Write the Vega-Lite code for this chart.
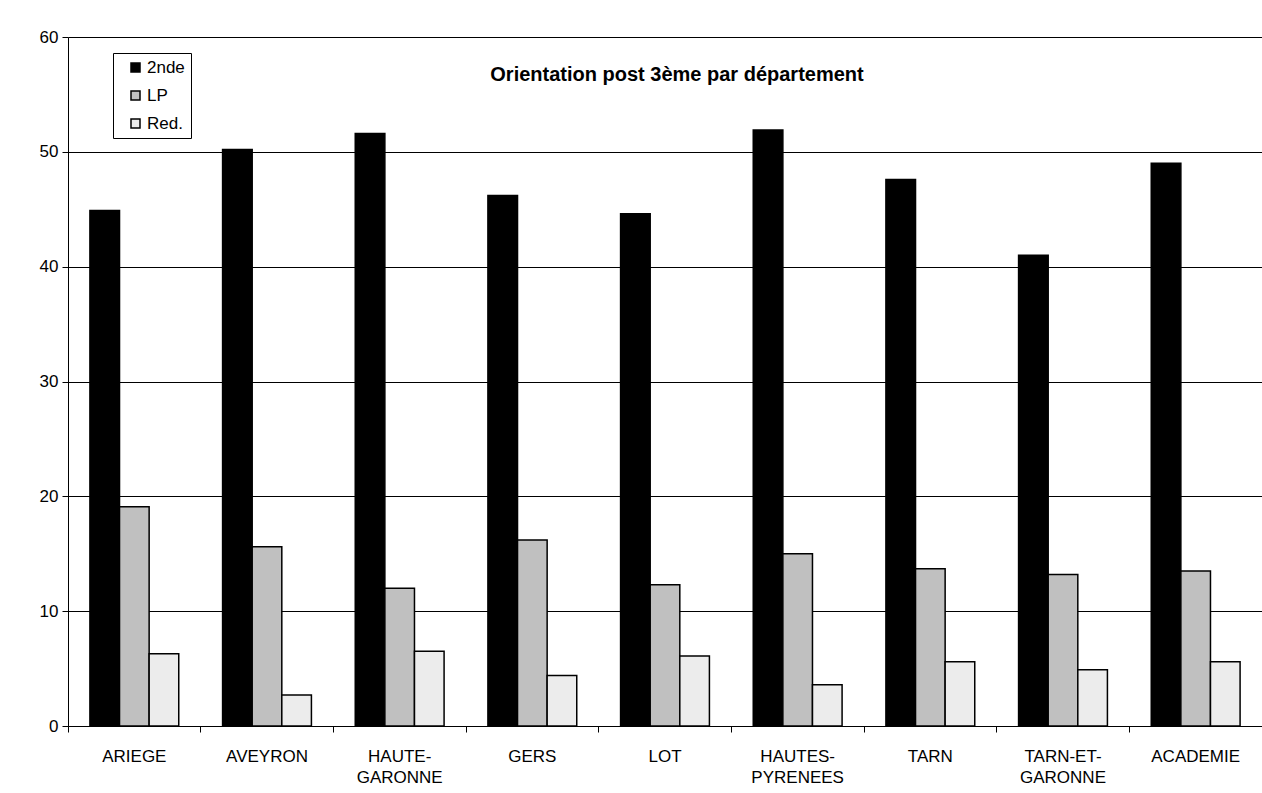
{
  "$schema": "https://vega.github.io/schema/vega-lite/v6.json",
  "width": 1194,
  "height": 689,
  "autosize": {"type": "none"},
  "padding": {"left": 68, "top": 37, "right": 0, "bottom": 67},
  "background": "white",
  "title": {
    "text": "Orientation post 3ème par département",
    "fontSize": 20,
    "fontWeight": "bold",
    "font": "Liberation Sans",
    "color": "black",
    "anchor": "middle",
    "orient": "top",
    "offset": -57,
    "dx": 12
  },
  "data": {
    "values": [
      {"dept": "ARIEGE", "serie": "2nde", "value": 44.9},
      {"dept": "ARIEGE", "serie": "LP", "value": 19.1},
      {"dept": "ARIEGE", "serie": "Red.", "value": 6.3},
      {"dept": "AVEYRON", "serie": "2nde", "value": 50.2},
      {"dept": "AVEYRON", "serie": "LP", "value": 15.6},
      {"dept": "AVEYRON", "serie": "Red.", "value": 2.7},
      {"dept": "HAUTE-GARONNE", "serie": "2nde", "value": 51.6},
      {"dept": "HAUTE-GARONNE", "serie": "LP", "value": 12.0},
      {"dept": "HAUTE-GARONNE", "serie": "Red.", "value": 6.5},
      {"dept": "GERS", "serie": "2nde", "value": 46.2},
      {"dept": "GERS", "serie": "LP", "value": 16.2},
      {"dept": "GERS", "serie": "Red.", "value": 4.4},
      {"dept": "LOT", "serie": "2nde", "value": 44.6},
      {"dept": "LOT", "serie": "LP", "value": 12.3},
      {"dept": "LOT", "serie": "Red.", "value": 6.1},
      {"dept": "HAUTES-PYRENEES", "serie": "2nde", "value": 51.9},
      {"dept": "HAUTES-PYRENEES", "serie": "LP", "value": 15.0},
      {"dept": "HAUTES-PYRENEES", "serie": "Red.", "value": 3.6},
      {"dept": "TARN", "serie": "2nde", "value": 47.6},
      {"dept": "TARN", "serie": "LP", "value": 13.7},
      {"dept": "TARN", "serie": "Red.", "value": 5.6},
      {"dept": "TARN-ET-GARONNE", "serie": "2nde", "value": 41.0},
      {"dept": "TARN-ET-GARONNE", "serie": "LP", "value": 13.2},
      {"dept": "TARN-ET-GARONNE", "serie": "Red.", "value": 4.9},
      {"dept": "ACADEMIE", "serie": "2nde", "value": 49.0},
      {"dept": "ACADEMIE", "serie": "LP", "value": 13.5},
      {"dept": "ACADEMIE", "serie": "Red.", "value": 5.6}
    ]
  },
  "mark": {"type": "bar", "stroke": "black", "strokeWidth": 1.5},
  "encoding": {
    "x": {
      "field": "dept",
      "type": "nominal",
      "sort": null,
      "scale": {"paddingInner": 0, "paddingOuter": 0},
      "axis": {
        "title": null,
        "bandPosition": 0,
        "labelAngle": 0,
        "labelFont": "Liberation Sans",
        "labelFontSize": 17,
        "labelColor": "black",
        "labelPadding": 16,
        "labelLineHeight": 21,
        "labelExpr": "lastindexof(datum.value,'-') > 0 ? [substring(datum.value,0,lastindexof(datum.value,'-')+1), substring(datum.value,lastindexof(datum.value,'-')+1)] : datum.value",
        "domainColor": "black",
        "domainWidth": 1,
        "tickColor": "black",
        "tickSize": 6,
        "grid": false
      }
    },
    "xOffset": {
      "field": "serie",
      "type": "nominal",
      "sort": ["2nde", "LP", "Red."],
      "scale": {"paddingInner": 0, "paddingOuter": 0.74}
    },
    "y": {
      "field": "value",
      "type": "quantitative",
      "scale": {"domain": [0, 60]},
      "axis": {
        "title": null,
        "values": [0, 10, 20, 30, 40, 50, 60],
        "grid": true,
        "gridColor": "black",
        "gridWidth": 1,
        "gridOpacity": 1,
        "labelFont": "Liberation Sans",
        "labelFontSize": 17,
        "labelColor": "black",
        "labelPadding": 4,
        "domainColor": "black",
        "tickColor": "black",
        "tickSize": 6
      }
    },
    "color": {
      "field": "serie",
      "type": "nominal",
      "scale": {"domain": ["2nde", "LP", "Red."], "range": ["#000000", "#c0c0c0", "#ececec"]},
      "legend": {
        "title": null,
        "orient": "none",
        "legendX": 45,
        "legendY": 16,
        "direction": "vertical",
        "padding": 6,
        "rowPadding": 10,
        "symbolType": "square",
        "symbolSize": 81,
        "symbolStrokeColor": "black",
        "symbolStrokeWidth": 1.5,
        "symbolOffset": 8,
        "labelOffset": 3,
        "labelFont": "Liberation Sans",
        "labelFontSize": 17,
        "labelColor": "black",
        "strokeColor": "black",
        "fillColor": "white",
        "cornerRadius": 0
      }
    }
  },
  "config": {
    "view": {"stroke": null},
    "axis": {"domainOpacity": 1, "tickOpacity": 1}
  }
}
